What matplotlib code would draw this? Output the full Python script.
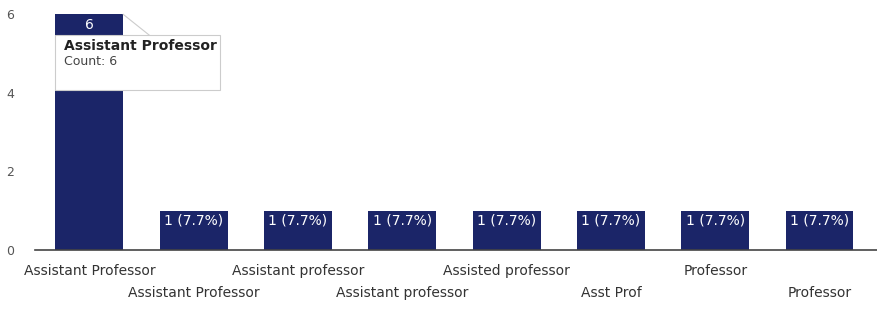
import matplotlib

matplotlib.use("Agg")
import matplotlib.pyplot as plt
from matplotlib.patches import Rectangle

categories = [
    "Assistant Professor",
    "Assistant Professor",
    "Assistant professor",
    "Assistant professor",
    "Assisted professor",
    "Asst Prof",
    "Professor",
    "Professor",
]
counts = [6, 1, 1, 1, 1, 1, 1, 1]
bar_labels = ["6", "1 (7.7%)", "1 (7.7%)", "1 (7.7%)", "1 (7.7%)",
              "1 (7.7%)", "1 (7.7%)", "1 (7.7%)"]
yticks = [0, 2, 4, 6]

BAR = "#1b2568"
TEXT = "#555555"

fig = plt.figure(figsize=(8.78, 3.12), dpi=100)
ax = fig.add_axes([0.04, 0.199, 0.96, 0.78])

xs = list(range(len(categories)))
width = 0.65
ax.bar(xs, counts, width=width, color=BAR, zorder=2)

for x, c, lab in zip(xs, counts, bar_labels):
    ax.text(x, c - 0.08, lab, ha="center", va="top", color="white",
            fontsize=10, zorder=3)

ax.set_xlim(-0.52, 7.56)
ax.set_ylim(0, 6.2)
ax.set_yticks(yticks)
ax.set_yticklabels([str(t) for t in yticks], color=TEXT, fontsize=9)
ax.tick_params(axis="y", length=0, pad=15)
ax.set_xticks([])
for side in ("top", "right", "left"):
    ax.spines[side].set_visible(False)
ax.spines["bottom"].set_color("#444444")
ax.spines["bottom"].set_linewidth(1.2)

# staggered category labels
for x, name in zip(xs, categories):
    dy = -0.35 if x % 2 == 0 else -0.93
    ax.text(x, dy, name, ha="center", va="top", fontsize=10,
            color="#333333", clip_on=False)

# tooltip over the first bar
left = xs[0] - width / 2
top = counts[0]
box_w, box_top, box_bot = 1.58, top - 0.53, top - 1.93
ax.add_patch(Rectangle((left, box_bot), box_w, box_top - box_bot,
                       facecolor="white", edgecolor="#cccccc", lw=0.8,
                       zorder=4))
ax.plot([left + width, left + width + 0.25], [top, box_top],
        color="#cccccc", lw=0.8, zorder=4)
ax.text(left + 0.08, top - 0.8, categories[0], fontsize=10,
        fontweight="bold", color="#222222", va="center", zorder=5)
ax.text(left + 0.08, top - 1.2, f"Count: {counts[0]}", fontsize=9,
        color="#444444", va="center", zorder=5)

fig.savefig("out.png", dpi=100)
